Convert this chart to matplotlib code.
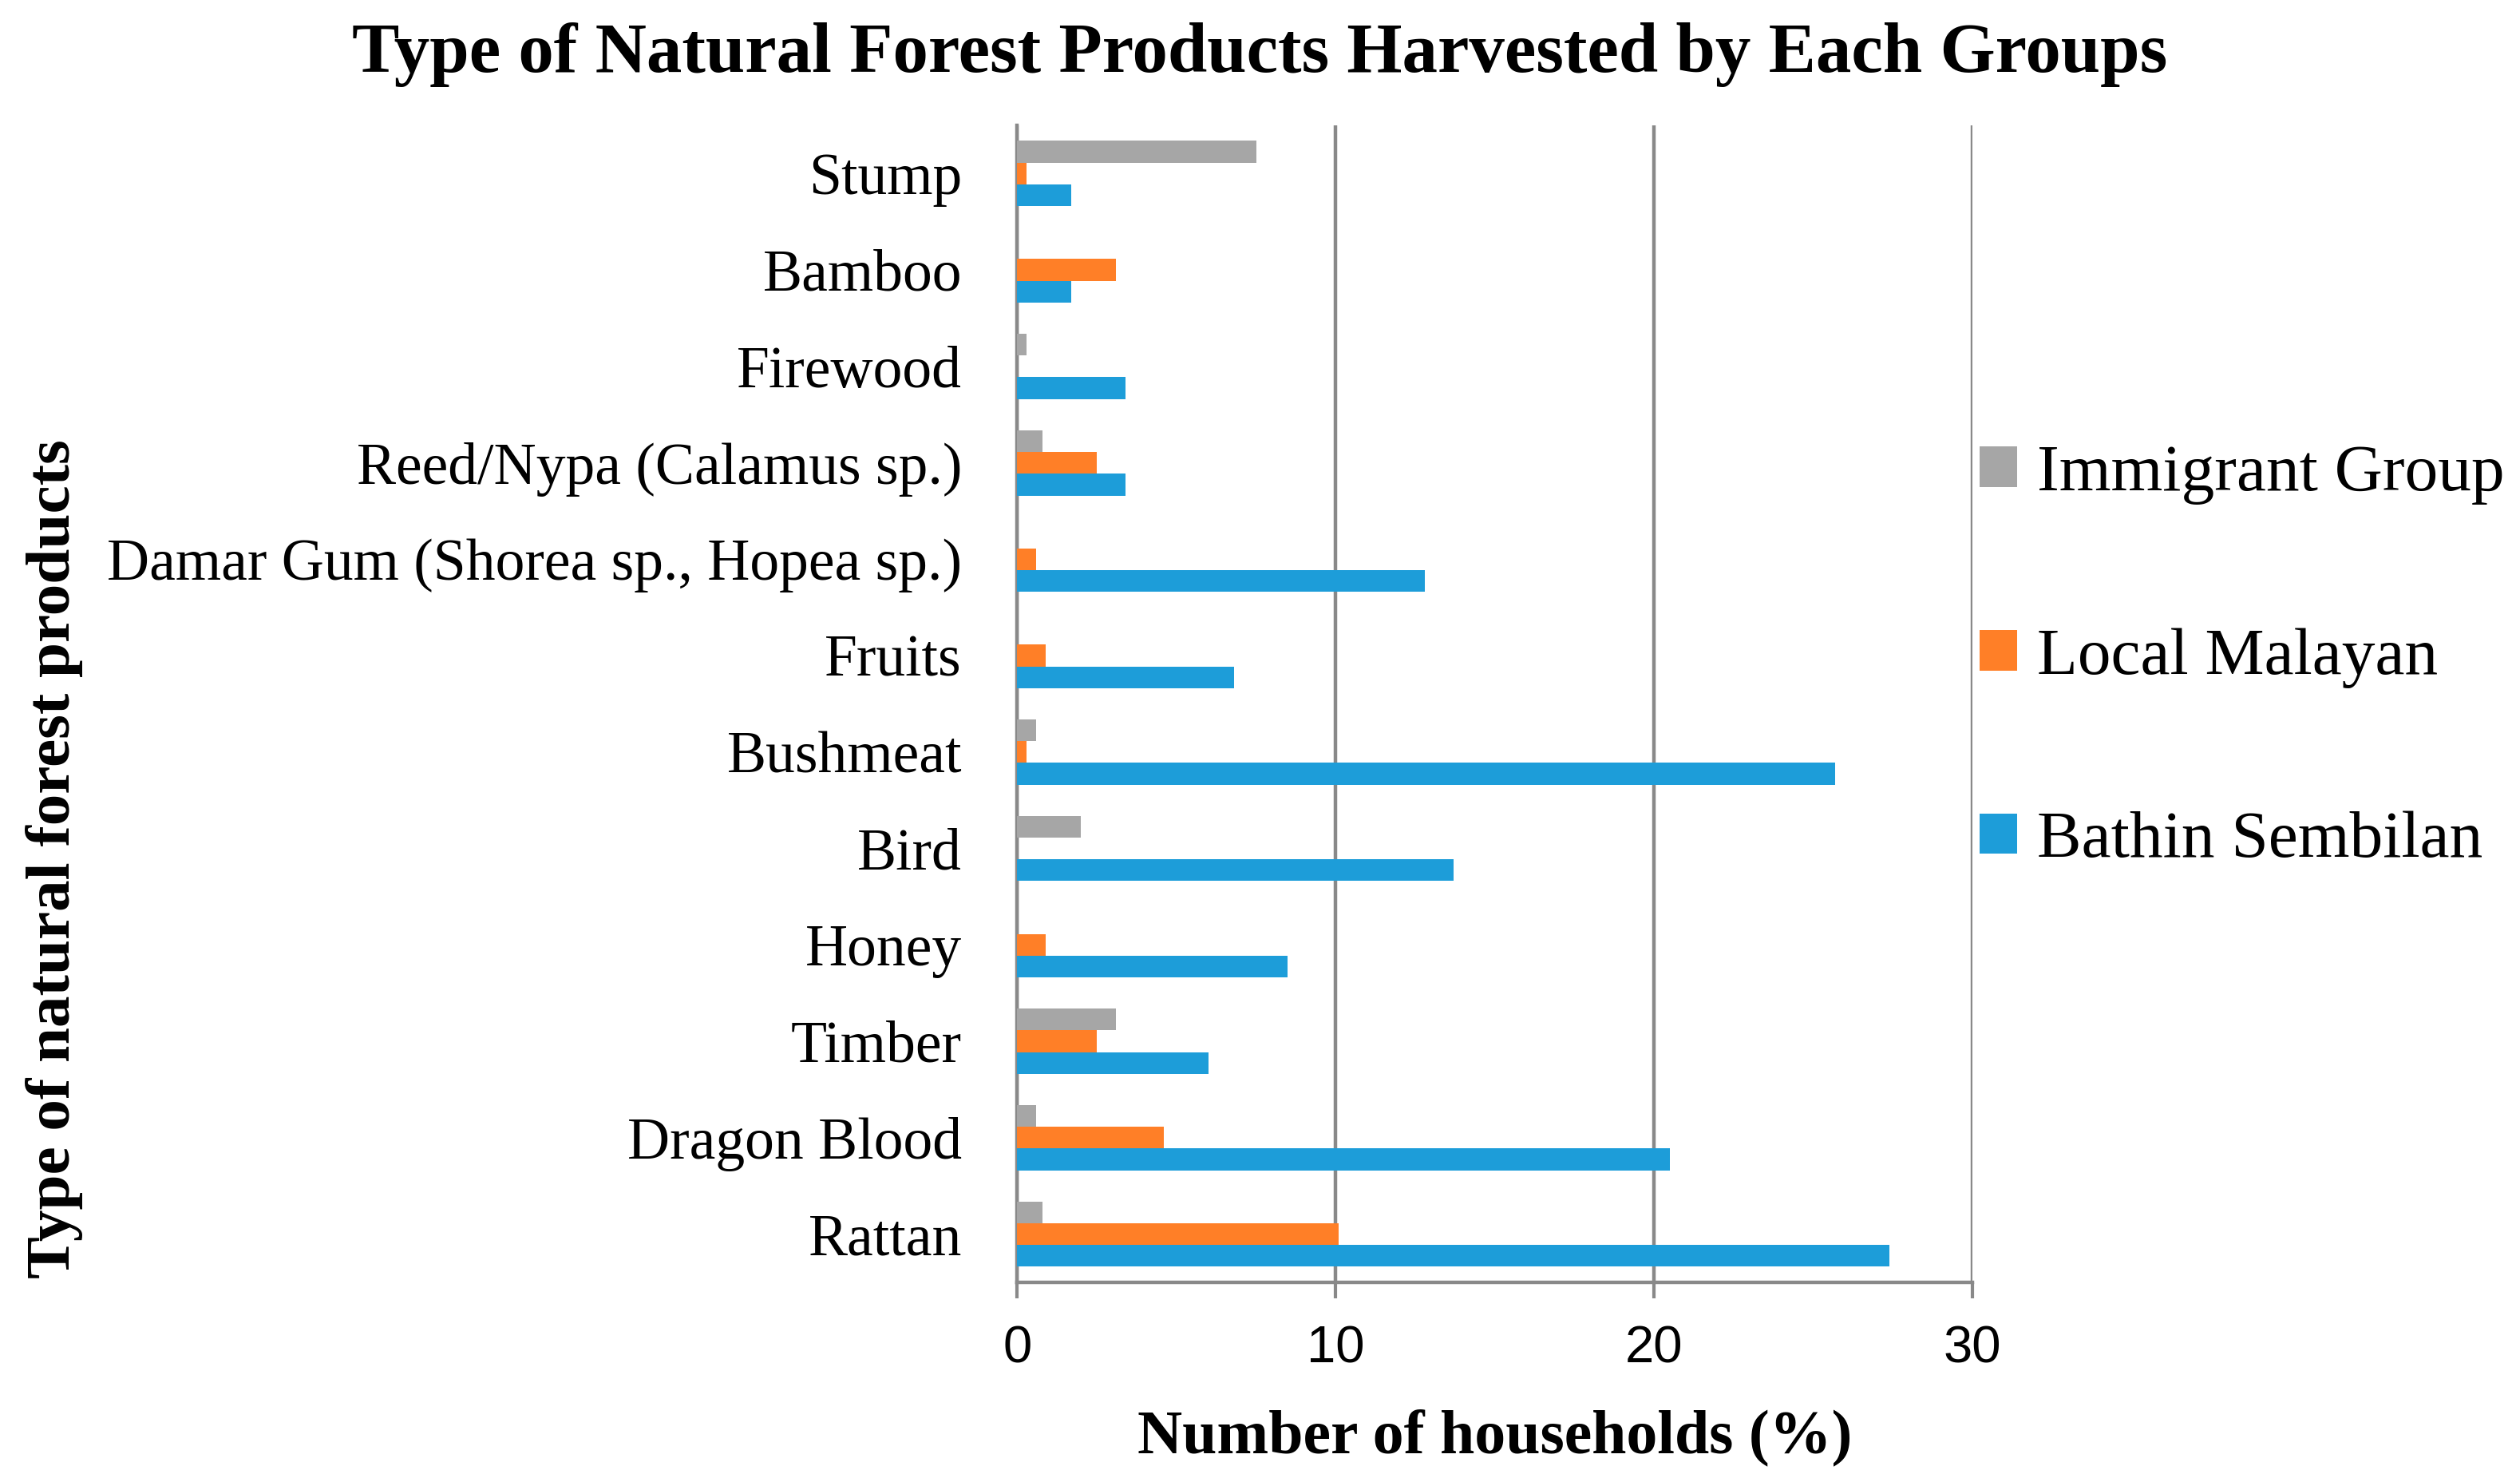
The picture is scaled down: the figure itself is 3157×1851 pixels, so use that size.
import matplotlib
matplotlib.use("Agg")
import matplotlib.pyplot as plt
import numpy as np

# Data (bottom to top as drawn)
products = ['Rattan', 'Dragon Blood', 'Timber', 'Honey', 'Bird', 'Bushmeat', 'Fruits',
            'Damar Gum (Shorea sp., Hopea sp.)', 'Reed/Nypa (Calamus sp.)',
            'Firewood', 'Bamboo', 'Stump']
bathin_sembilan = [27.4, 20.5, 6.0, 8.5, 13.7, 25.7, 6.8, 12.8, 3.4, 3.4, 1.7, 1.7]
local_malayan = [10.1, 4.6, 2.5, 0.9, 0.0, 0.3, 0.9, 0.6, 2.5, 0.0, 3.1, 0.3]
immigrant_group = [0.8, 0.6, 3.1, 0.0, 2.0, 0.6, 0.0, 0.0, 0.8, 0.3, 0.0, 7.5]
x_ticks = [0, 10, 20, 30]

serif = 'Liberation Serif'
sans = 'Liberation Sans'
grid_col = '#898989'

fig = plt.figure(figsize=(15.785, 9.255), dpi=200)
ax = fig.add_axes([0.4037, 0.1324, 0.379, 0.7828])

y = np.arange(len(products))
h = 0.226
b1 = ax.barh(y - h, bathin_sembilan, height=h, color='#1D9DD9', label='Bathin Sembilan', zorder=3)
b2 = ax.barh(y, local_malayan, height=h, color='#FF7F27', label='Local Malayan', zorder=3)
b3 = ax.barh(y + h, immigrant_group, height=h, color='#A6A6A6', label='Immigrant Group', zorder=3)

ax.set_xlim(0, 30)
ax.set_ylim(-0.5, len(products) - 0.5)
ax.set_xticks(x_ticks)
ax.set_xticklabels([str(t) for t in x_ticks], fontfamily=sans, fontsize=23.5)
ax.set_yticks(y)
ax.set_yticklabels(products, fontfamily=serif, fontsize=26.5)
ax.tick_params(axis='y', length=0, pad=25)
ax.tick_params(axis='x', length=7.2, width=1.5, color=grid_col, pad=12, direction='out')

ax.xaxis.grid(True, color=grid_col, linewidth=1.6, zorder=0)
for s in ['top', 'right']:
    ax.spines[s].set_visible(False)
for s in ['left', 'bottom']:
    ax.spines[s].set_color(grid_col)
    ax.spines[s].set_linewidth(1.6)

ax.set_xlabel('Number of households (%)', fontfamily=serif, fontsize=28, fontweight='bold', va='center')
ax.xaxis.set_label_coords(0.5, -0.134)

fig.text(0.0216, 0.419, 'Type of natural forest products', rotation=90, ha='center', va='center',
         fontfamily=serif, fontsize=28.5, fontweight='bold')
fig.suptitle('Type of Natural Forest Products Harvested by Each Groups', x=0.5, y=0.985,
             fontfamily=serif, fontsize=32, fontweight='bold')

leg = fig.legend(handles=[b3, b2, b1], labels=['Immigrant Group', 'Local Malayan', 'Bathin Sembilan'],
                 loc='center left', bbox_to_anchor=(0.7856, 0.5548), frameon=False,
                 prop={'family': serif, 'size': 30}, handlelength=0.56, handleheight=0.56,
                 handletextpad=0.3, labelspacing=1.85, borderpad=0, borderaxespad=0)

fig.savefig('out.png', dpi=200)
